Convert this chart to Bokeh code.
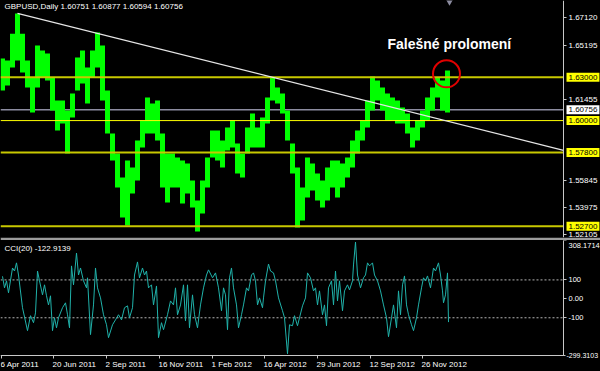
import numpy as np
from bokeh.plotting import figure
from bokeh.models import Range1d, FixedTicker, Label, LinearAxis, PrintfTickFormatter
from bokeh.layouts import column
from bokeh.embed import file_html
from bokeh.resources import INLINE
from bokeh.core.properties import value

# ---------------- data ----------------
SYMBOL = "GBPUSD,Daily"
LAST_OHLC = [1.60751, 1.60877, 1.60594, 1.60756]
GROUP = 5  # bars per reading
HIGH = [1.6429, 1.6415, 1.6601, 1.6740, 1.6601, 1.6415, 1.6297, 1.6519, 1.6484, 1.6463,
        1.6297, 1.6138, 1.6138, 1.6069, 1.6187, 1.6436, 1.6484, 1.6367, 1.6484, 1.6608,
        1.6519, 1.6208, 1.5910, 1.5772, 1.5606, 1.5724, 1.5676, 1.5862, 1.6000, 1.6159,
        1.6118, 1.6138, 1.5910, 1.5772, 1.5772, 1.5745, 1.5724, 1.5703, 1.5586, 1.5447,
        1.5586, 1.5745, 1.5931, 1.5931, 1.5862, 1.5952, 1.6000, 1.5841, 1.5772, 1.5952,
        1.6049, 1.5952, 1.6021, 1.6159, 1.6297, 1.6228, 1.6187, 1.6069, 1.5841, 1.5676,
        1.5537, 1.5745, 1.5703, 1.5634, 1.5586, 1.5676, 1.5724, 1.5724, 1.5703, 1.5745,
        1.5862, 1.5931, 1.6000, 1.6138, 1.6304, 1.6277, 1.6228, 1.6187, 1.6159, 1.6138,
        1.6090, 1.6049, 1.5952, 1.6000, 1.6069, 1.6159, 1.6228, 1.6297, 1.6277, 1.6346]
LOW = [1.6208, 1.6242, 1.6367, 1.6415, 1.6332, 1.6228, 1.6056, 1.6228, 1.6297, 1.6277,
       1.6069, 1.5931, 1.5980, 1.5772, 1.6021, 1.6208, 1.6256, 1.6118, 1.6297, 1.6367,
       1.6138, 1.5910, 1.5724, 1.5537, 1.5330, 1.5275, 1.5496, 1.5586, 1.5814, 1.5910,
       1.5910, 1.5862, 1.5537, 1.5434, 1.5537, 1.5537, 1.5427, 1.5496, 1.5399, 1.5233,
       1.5358, 1.5537, 1.5745, 1.5724, 1.5676, 1.5793, 1.5814, 1.5634, 1.5606, 1.5772,
       1.5814, 1.5814, 1.5814, 1.5980, 1.6138, 1.6118, 1.6049, 1.5862, 1.5634, 1.5261,
       1.5309, 1.5468, 1.5517, 1.5447, 1.5399, 1.5447, 1.5537, 1.5468, 1.5537, 1.5606,
       1.5676, 1.5772, 1.5862, 1.5952, 1.6069, 1.6138, 1.6069, 1.6000, 1.6000, 1.5980,
       1.5980, 1.5910, 1.5814, 1.5862, 1.5952, 1.6000, 1.6069, 1.6159, 1.6069, 1.6056]
LEVELS_MAIN = [1.63000, 1.57800, 1.52700]
LEVEL_MID = 1.60000
TREND_FROM = (17, 1.6741)   # bar index, price (April 2011 high)
TREND_VIA = (273, 1.6297)   # bar index, price (April 2012 high)
PRICE_TICKS = [1.67120, 1.65195, 1.61455, 1.55845, 1.53975, 1.52105]
PRICE_MIN, PRICE_MAX = 1.5192, 1.6830
DATE_IDX = [1, 53, 106, 159, 212, 264, 317, 370, 422]
DATE_LBL = ["6 Apr 2011", "20 Jun 2011", "2 Sep 2011", "16 Nov 2011", "1 Feb 2012",
            "16 Apr 2012", "29 Jun 2012", "12 Sep 2012", "26 Nov 2012"]
N_SLOTS = 563      # bar slots visible in the chart window
N_TOTAL = 600      # incl. the price-scale strip

CCI_IDX = [2, 4, 6, 8, 12, 14, 16, 18, 22, 27, 30, 33, 35, 37, 39, 42, 44, 46, 48, 50,
           52, 54, 56, 58, 62, 65, 67, 69, 71, 73, 76, 78, 80, 83, 86, 87, 90, 93, 95, 97,
           100, 103, 106, 108, 112, 115, 118, 121, 124, 127, 129, 132, 134, 137, 139, 142, 144, 146, 148, 151,
           153, 156, 158, 161, 163, 167, 170, 173, 175, 177, 180, 183, 185, 187, 189, 192, 194, 197, 200, 203,
           206, 208, 212, 215, 218, 221, 223, 225, 227, 229, 231, 233, 236, 238, 241, 243, 246, 248, 251, 253,
           255, 257, 259, 262, 263, 265, 268, 270, 273, 275, 278, 282, 284, 287, 289, 292, 294, 297, 299, 302,
           305, 307, 310, 313, 315, 317, 319, 322, 324, 326, 328, 331, 333, 335, 337, 339, 342, 344, 347, 349,
           352, 353, 355, 357, 360, 363, 365, 367, 369, 372, 374, 377, 380, 383, 386, 388, 391, 393, 396, 398,
           400, 402, 404, 406, 408, 411, 413, 416, 418, 421, 423, 425, 427, 430, 433, 435, 438, 440, 442, 443,
           445, 447, 448]
CCI_VAL = [119, 58, 95, 32, 163, 147, 190, 126, -47, -168, -89, -126, -74, 147, 95, 21, 74, 16, -32, 16,
           -168, -100, -153, -100, -47, -21, -84, -153, 174, 74, 242, 126, 163, 95, 58, 111, -189, -32, 163, 58,
           5, -84, -137, -205, -137, -111, -84, -111, -47, -37, -100, -47, 126, 195, 111, 163, 126, 147, 58, 74,
           -32, 68, -205, -126, -163, -84, -11, -32, 58, -84, -32, 74, -116, 74, -153, 21, -84, -153, -32, 58,
           126, 153, 111, 137, 58, -63, 58, 21, -163, 111, 163, 58, -32, -153, -84, -32, 58, 42, 126, 137,
           95, -32, 5, -47, 5, 95, 184, 147, 137, 95, 5, -63, -100, -290, -137, -142, -89, -142, -100, -37,
           5, 137, 111, 42, 58, -32, 42, -84, -32, -142, 58, 95, -32, 147, -11, 95, -63, 42, 74, 47,
           95, 179, 300, 126, 58, 111, 126, 190, 174, 190, 126, 95, 42, -32, -100, -200, -100, -32, -153, 42,
           -84, 74, 121, -32, -84, -137, -168, -100, -32, 58, 111, 95, 121, 58, 163, 147, 190, 126, 42, -21,
           21, 137, -122.9139]
CCI_MIN, CCI_MAX = -299.3103, 308.1714
CCI_LEVELS = [100, -100]

# ---------------- styling ----------------
FONT = "Liberation Sans"
WHITE = "#ffffff"
AXIS_COL = "#c8c8c8"
CCI_PLOT_PX, DATE_STRIP_PX = 115, 16   # indicator window height and date strip below it


def style_axis(ax, size="8px", tick=3, standoff=2):
    ax.axis_line_color = AXIS_COL
    ax.major_tick_line_color = AXIS_COL
    ax.major_tick_out = tick
    ax.major_tick_in = 0
    ax.minor_tick_line_color = None
    ax.major_label_text_color = WHITE
    ax.major_label_text_font = FONT
    ax.major_label_text_font_size = size
    ax.major_label_standoff = standoff


xs = np.arange(len(HIGH)) * GROUP + GROUP // 2

# ---------------- price panel ----------------
p1 = figure(width=600, height=240, x_range=Range1d(0, N_TOTAL), y_range=Range1d(PRICE_MIN, PRICE_MAX),
            output_backend="svg", toolbar_location=None, x_axis_location=None, y_axis_location=None,
            background_fill_color="black", border_fill_color="#9c9c9c", outline_line_color=None,
            min_border_left=0, min_border_right=0, min_border_top=0, min_border_bottom=3)
p1.grid.visible = False

pax = LinearAxis(fixed_location=N_SLOTS, ticker=FixedTicker(ticks=PRICE_TICKS),
                 formatter=PrintfTickFormatter(format="%.5f"))
style_axis(pax)
p1.add_layout(pax, "right")

p1.segment(x0=[0], y0=[LAST_OHLC[3]], x1=[N_SLOTS], y1=[LAST_OHLC[3]], line_color="#8c8ca0", line_width=1.5)
p1.vbar(x=xs, width=GROUP, top=HIGH, bottom=LOW, fill_color="#00ff00", line_color=None)

p1.segment(x0=[0] * len(LEVELS_MAIN), y0=LEVELS_MAIN, x1=[N_SLOTS] * len(LEVELS_MAIN), y1=LEVELS_MAIN,
           line_color="#c8c800", line_width=2)
p1.segment(x0=[0], y0=[LEVEL_MID], x1=[N_SLOTS], y1=[LEVEL_MID], line_color="#ffff00", line_width=1)

slope = (TREND_VIA[1] - TREND_FROM[1]) / (TREND_VIA[0] - TREND_FROM[0])
p1.segment(x0=[TREND_FROM[0]], y0=[TREND_FROM[1]], x1=[N_SLOTS],
           y1=[TREND_FROM[1] + slope * (N_SLOTS - TREND_FROM[0])],
           line_color="#e6e6e6", line_width=1.2)

# false breakout circle around the highest reading of the last swing
g = len(HIGH) - 1 - int(np.argmax(HIGH[::-1][:4]))
p1.scatter(x=[xs[g] - 1], y=[(HIGH[g] + LEVELS_MAIN[0]) / 2], size=27, marker="circle",
           fill_color=None, line_color="#e00000", line_width=2)
p1.scatter(x=[len(HIGH) * GROUP - 1], y=[PRICE_MAX], size=9, marker="inverted_triangle",
           fill_color="#8c8ca0", line_color=None)

# price tags on the scale
tag_levels = LEVELS_MAIN + [LEVEL_MID]
p1.text(x=[N_SLOTS + 3] * len(tag_levels), y=tag_levels, text=["%.5f" % v for v in tag_levels],
        text_baseline="middle", text_align="left", text_color="black", text_font=value(FONT),
        text_font_size=value("8px"), background_fill_color="#ffff00", padding=2)
p1.text(x=[N_SLOTS + 3], y=[LAST_OHLC[3]], text=["%.5f" % LAST_OHLC[3]],
        text_baseline="middle", text_align="left", text_color="black", text_font=value(FONT),
        text_font_size=value("8px"), background_fill_color="#ffffff", padding=2)

p1.add_layout(Label(x=4, y=PRICE_MAX, text=SYMBOL + "  " + " ".join("%.5f" % v for v in LAST_OHLC),
                    text_baseline="top", text_color=WHITE, text_font=FONT, text_font_size="8px", y_offset=-1))
p1.add_layout(Label(x=387, y=1.6532, text="Falešné prolomení", text_baseline="middle",
                    text_color=WHITE, text_font=FONT, text_font_size="14px", text_font_style="bold"))

# ---------------- CCI panel (frame also holds the date strip) ----------------
units_per_px = (CCI_MAX - CCI_MIN) / CCI_PLOT_PX
cci_low = CCI_MIN - DATE_STRIP_PX * units_per_px
p2 = figure(width=600, height=CCI_PLOT_PX + DATE_STRIP_PX, x_range=p1.x_range,
            y_range=Range1d(cci_low, CCI_MAX),
            output_backend="svg", toolbar_location=None, y_axis_location=None, x_axis_location=None,
            background_fill_color="black", border_fill_color="black", outline_line_color=None,
            min_border_left=0, min_border_right=0, min_border_top=0, min_border_bottom=0)
p2.grid.visible = False

cmid = LinearAxis(fixed_location=N_SLOTS, ticker=FixedTicker(ticks=[100, 0, -100]),
                  major_label_overrides={100: "100", 0: "0.00", -100: "-100"}, bounds=(CCI_MIN, CCI_MAX))
style_axis(cmid, "7.5px")
p2.add_layout(cmid, "right")
ctop = LinearAxis(fixed_location=N_SLOTS, ticker=FixedTicker(ticks=[CCI_MAX]),
                  major_label_overrides={CCI_MAX: "%.4f" % CCI_MAX}, bounds=(CCI_MIN, CCI_MAX))
style_axis(ctop, "7.5px")
ctop.major_label_text_baseline = "top"
p2.add_layout(ctop, "right")
cbot = LinearAxis(fixed_location=N_SLOTS, ticker=FixedTicker(ticks=[CCI_MIN]),
                  major_label_overrides={CCI_MIN: "%.4f" % CCI_MIN}, bounds=(CCI_MIN, CCI_MAX))
style_axis(cbot, "7px", tick=2, standoff=1)
cbot.major_label_text_baseline = "bottom"
p2.add_layout(cbot, "right")

xa = LinearAxis(fixed_location=CCI_MIN, ticker=FixedTicker(ticks=DATE_IDX),
                major_label_overrides={i: "" for i in DATE_IDX}, bounds=(0, N_SLOTS))
style_axis(xa)
p2.add_layout(xa, "below")
p2.text(x=DATE_IDX, y=[CCI_MIN - 9 * units_per_px] * len(DATE_IDX), text=DATE_LBL,
        text_align="left", text_baseline="middle", text_color=WHITE, text_font=value(FONT),
        text_font_size=value("8px"), x_offset=-1)

p2.segment(x0=[0] * len(CCI_LEVELS), y0=CCI_LEVELS, x1=[N_SLOTS] * len(CCI_LEVELS), y1=CCI_LEVELS,
           line_color="#b4b4b4", line_width=1, line_dash="2 2")
p2.line(CCI_IDX, CCI_VAL, line_color="#20b2aa", line_width=1)
p2.add_layout(Label(x=4, y=CCI_MAX, text="CCI(20) %.4f" % CCI_VAL[-1], text_baseline="top",
                    text_color=WHITE, text_font=FONT, text_font_size="8px", y_offset=-3))

layout = column(p1, p2, spacing=0)
html = file_html(layout, INLINE, title="GBPUSD Daily")
html = html.replace("</head>", "<style>html,body{margin:0 !important;padding:0;background:#000;}</style></head>", 1)
open("out.html", "w").write(html)
